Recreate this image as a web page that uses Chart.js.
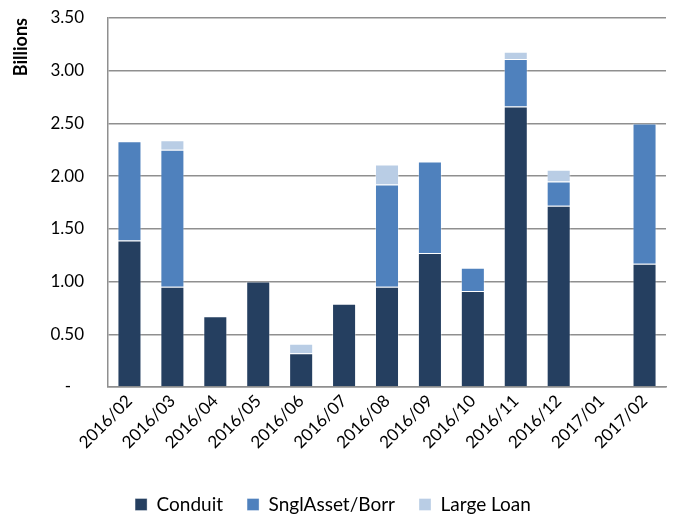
<!DOCTYPE html>
<html>
<head>
<meta charset="utf-8">
<script src="https://cdn.jsdelivr.net/npm/chart.js@4/dist/chart.umd.min.js"></script>
<style>
  html, body { margin: 0; padding: 0; background: #fff; }
  #wrap { width: 673px; height: 514px; }
</style>
</head>
<body>
<div id="wrap"><canvas id="issuance"></canvas></div>
<script>
// monthly issuance, billions
const months = ['2016/02', '2016/03', '2016/04', '2016/05', '2016/06', '2016/07', '2016/08',
                '2016/09', '2016/10', '2016/11', '2016/12', '2017/01', '2017/02'];
const conduit    = [1.39, 0.95, 0.67, 1.00, 0.32, 0.79, 0.95, 1.27, 0.91, 2.66, 1.72, 0, 1.17];
const snglAsset  = [0.94, 1.30, 0,    0,    0,    0,    0.97, 0.87, 0.22, 0.45, 0.23, 0, 1.33];
const largeLoan  = [0,    0.09, 0,    0,    0.09, 0,    0.19, 0,    0,    0.07, 0.11, 0, 0];

const font = "Lato, 'Open Sans', sans-serif";
const gridGray = '#8f8f8f';

function series(label, data, color) {
  return {
    label: label,
    data: data,
    backgroundColor: color,
    borderColor: 'rgba(255,255,255,0.35)',
    borderWidth: 1,
    borderSkipped: 'bottom',
    barPercentage: 0.56,
    categoryPercentage: 1.0
  };
}

new Chart(document.getElementById('issuance'), {
  type: 'bar',
  data: {
    labels: months,
    datasets: [
      series('Conduit', conduit, '#253f60'),
      series('SnglAsset/Borr', snglAsset, '#4f81bd'),
      series('Large Loan', largeLoan, '#b9cde5')
    ]
  },
  options: {
    responsive: true,
    maintainAspectRatio: false,
    animation: false,
    layout: { padding: { left: 0, right: 7, top: 18, bottom: -10 } },
    plugins: {
      tooltip: { enabled: false },
      legend: {
        position: 'bottom',
        labels: {
          color: '#000',
          font: { family: font, size: 19 },
          boxWidth: 12,
          boxHeight: 12,
          padding: 24
        }
      }
    },
    scales: {
      x: {
        stacked: true,
        grid: { display: false, drawTicks: false },
        border: { display: true, color: gridGray, width: 1.5 },
        ticks: {
          color: '#000',
          font: { family: font, size: 17 },
          minRotation: 45,
          maxRotation: 45,
          padding: 4
        },
        afterFit: axis => { axis.height = 84; axis.paddingLeft = 0; axis.paddingRight = 0; }
      },
      y: {
        stacked: true,
        min: 0,
        max: 3.5,
        grid: { color: gridGray, lineWidth: 1.5, drawTicks: false },
        border: { display: true, color: gridGray, width: 1.5 },
        ticks: {
          stepSize: 0.5,
          color: '#000',
          font: { family: font, size: 17 },
          padding: 24,
          // zero shown as an accounting dash, set in from the right
          callback: v => v === 0 ? '-   ' : v.toFixed(2)
        },
        title: {
          display: true,
          text: 'Billions',
          align: 'end',
          color: '#000',
          font: { family: font, size: 18, weight: 'bold' },
          padding: { top: 10, bottom: 0 }
        },
        afterFit: axis => { axis.width = 108; axis.paddingTop = 0; axis.paddingBottom = 0; }
      }
    }
  }
});
</script>
</body>
</html>
